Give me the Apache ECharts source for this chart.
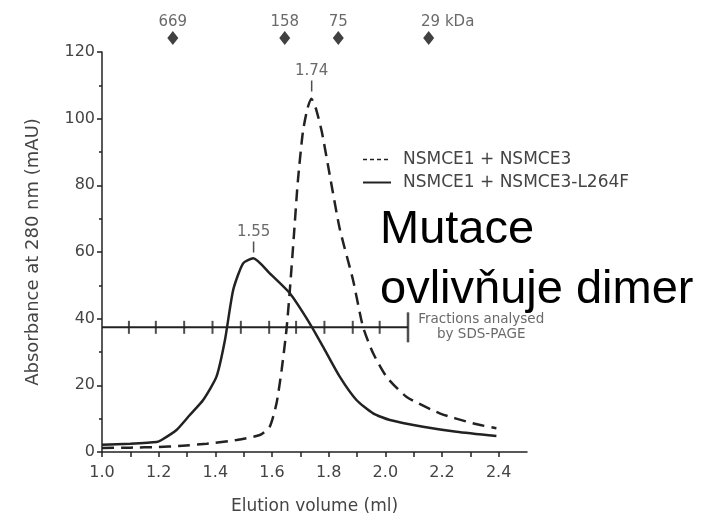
<!DOCTYPE html>
<html>
<head>
<meta charset="utf-8">
<script src="https://cdn.jsdelivr.net/npm/echarts@6/dist/echarts.min.js"></script>
<style>
html,body{margin:0;padding:0;background:#fff;}
#chart{width:719px;height:518px;}
</style>
</head>
<body>
<div id="chart"></div>
<script>
// ---- data ----
var seriesNames = ['NSMCE1 + NSMCE3', 'NSMCE1 + NSMCE3-L264F'];

var wtVolume = [1.0, 1.1, 1.2, 1.27, 1.37, 1.475, 1.557, 1.592, 1.616, 1.634, 1.651, 1.663, 1.677, 1.691, 1.709, 1.725, 1.739, 1.755, 1.776, 1.804, 1.839, 1.886, 1.921, 1.957, 2.004, 2.074, 2.192, 2.309, 2.392];
var wtAbs    = [1.2, 1.3, 1.5, 1.8, 2.5, 3.6, 5.1, 7.6, 14.6, 24.6, 36.6, 48.6, 64.6, 81, 96, 103, 106, 103, 96, 83, 67, 51.6, 37.6, 29.6, 22.6, 16.6, 11.6, 8.6, 7.1];

var mutVolume = [1.0, 1.1, 1.193, 1.21, 1.263, 1.31, 1.357, 1.404, 1.434, 1.463, 1.498, 1.534, 1.592, 1.663, 1.733, 1.78, 1.839, 1.898, 1.957, 2.016, 2.133, 2.251, 2.392];
var mutAbs    = [2.2, 2.5, 3.0, 3.6, 6.6, 11.1, 15.6, 22.6, 33.6, 48.6, 56.6, 58.1, 53.6, 47.6, 38.6, 31.6, 22.6, 15.6, 11.6, 9.6, 7.6, 6.1, 4.8];

var markerVolume = [1.25, 1.645, 1.834, 2.153];
var markerLabels = ['669', '158', '75', '29 kDa'];
var markerLevel = 124.2;

var peakVolume = [1.74, 1.535];
var peakLevel  = [109.8, 61.5];
var peakLabels = ['1.74', '1.55'];

var fractionTicks = [1.095, 1.19, 1.29, 1.39, 1.49, 1.59, 1.685, 1.785, 1.885, 1.98];
var fractionStart = 1.0;
var fractionEnd = 2.08;
var fractionLevel = 37.4;
var fractionText = ['Fractions analysed', 'by SDS-PAGE'];

var xTickValues  = [1.0, 1.1, 1.2, 1.3, 1.4, 1.5, 1.6, 1.7, 1.8, 1.9, 2.0, 2.1, 2.2, 2.3, 2.4];
var xLabelValues = [1.0, 1.2, 1.4, 1.6, 1.8, 2.0, 2.2, 2.4];

var xTitle = 'Elution volume (ml)';
var yTitle = 'Absorbance at 280 nm (mAU)';
var overlayText = ['Mutace', 'ovlivňuje dimer'];

// ---- chart ----
function zip(a, b) { return a.map(function (v, i) { return [v, b[i]]; }); }

var FONT = 'DejaVu Sans';
var INK = '#222';
var TXT = '#444';

var chart = echarts.init(document.getElementById('chart'), null, {renderer: 'canvas'});

var option = {
  animation: false,
  backgroundColor: '#fff',
  grid: {left: 102, right: 192, top: 52, bottom: 66, containLabel: false, outerBoundsMode: 'none'},
  legend: {
    orient: 'vertical',
    left: 357,
    top: 146,
    itemWidth: 28,
    itemHeight: 14,
    itemGap: 6,
    selectedMode: false,
    itemStyle: {opacity: 0},
    data: [
      {name: seriesNames[0], lineStyle: {type: [4, 3], width: 1.5}},
      {name: seriesNames[1], lineStyle: {width: 2}}
    ],
    textStyle: {fontFamily: FONT, fontSize: 17, color: TXT, padding: [0, 0, 0, 7], lineHeight: 17}
  },
  xAxis: {
    type: 'value',
    min: 1.0,
    max: 2.5,
    interval: 0.1,
    name: xTitle,
    nameLocation: 'middle',
    nameGap: 46,
    nameTextStyle: {fontFamily: FONT, fontSize: 17, color: TXT},
    axisLine: {lineStyle: {color: INK, width: 1.5}},
    axisTick: {show: true, length: 5, customValues: xTickValues, lineStyle: {color: INK, width: 1.5}},
    axisLabel: {
      customValues: xLabelValues,
      margin: 13,
      fontFamily: FONT, fontSize: 16, color: TXT,
      formatter: function (v) { return v.toFixed(1); }
    },
    splitLine: {show: false}
  },
  yAxis: {
    type: 'value',
    min: 0,
    max: 120,
    interval: 20,
    name: yTitle,
    nameLocation: 'middle',
    nameGap: 60,
    nameRotate: 90,
    nameTextStyle: {fontFamily: FONT, fontSize: 18, color: TXT},
    axisLine: {show: true, lineStyle: {color: INK, width: 1.5}},
    axisTick: {show: true, length: 5, lineStyle: {color: INK, width: 1.5}},
    minorTick: {show: true, splitNumber: 2, length: 3, lineStyle: {color: INK, width: 1.5}},
    axisLabel: {margin: 7, fontFamily: FONT, fontSize: 16, color: TXT},
    splitLine: {show: false},
    minorSplitLine: {show: false}
  },
  graphic: [
    {type: 'text', left: 380, top: 207, silent: true,
     style: {text: overlayText[0], font: '47px "Liberation Sans", Arial, sans-serif', fill: '#000'}},
    {type: 'text', left: 380, top: 267, silent: true,
     style: {text: overlayText[1], font: '47px "Liberation Sans", Arial, sans-serif', fill: '#000'}}
  ],
  series: [
    {
      name: seriesNames[0],
      type: 'line',
      data: zip(wtVolume, wtAbs),
      showSymbol: false,
      symbol: 'none',
      smooth: 0.2,
      silent: true,
      lineStyle: {color: INK, width: 2.5, type: [12, 7]},
      itemStyle: {color: INK},
      z: 3
    },
    {
      name: seriesNames[1],
      type: 'line',
      data: zip(mutVolume, mutAbs),
      showSymbol: false,
      symbol: 'none',
      smooth: 0.2,
      silent: true,
      lineStyle: {color: INK, width: 2.5},
      itemStyle: {color: INK},
      z: 3
    },
    {
      name: 'fractions',
      type: 'line',
      data: [[fractionStart, fractionLevel], [fractionEnd, fractionLevel]],
      symbol: 'none',
      silent: true,
      lineStyle: {color: INK, width: 2},
      z: 2
    },
    {
      name: 'fractionTicks',
      type: 'scatter',
      data: fractionTicks.map(function (v) { return [v, fractionLevel]; }),
      symbol: 'rect',
      symbolSize: [2, 13],
      silent: true,
      itemStyle: {color: INK},
      z: 2
    },
    {
      name: 'fractionEnd',
      type: 'scatter',
      data: [[fractionEnd, fractionLevel]],
      symbol: 'rect',
      symbolSize: [2.5, 30],
      silent: true,
      itemStyle: {color: INK},
      label: {
        show: true,
        position: 'right',
        distance: 6,
        formatter: '{a|' + fractionText[0] + '}\n{a|' + fractionText[1] + '}',
        rich: {a: {width: 132, align: 'center', fontFamily: FONT, fontSize: 13.5, color: TXT, lineHeight: 15}}
      },
      z: 2
    },
    {
      name: 'peaks',
      type: 'scatter',
      data: zip(peakVolume, peakLevel).map(function (p, i) {
        return {value: p, label: {formatter: peakLabels[i]}};
      }),
      symbol: 'rect',
      symbolSize: [1.5, 11],
      silent: true,
      itemStyle: {color: INK},
      label: {show: true, position: 'top', distance: 2, fontFamily: FONT, fontSize: 15, color: TXT},
      z: 4
    },
    {
      name: 'markers',
      type: 'scatter',
      clip: false,
      data: markerVolume.map(function (v, i) {
        var item = {value: [v, markerLevel], label: {formatter: markerLabels[i]}};
        if (i === markerVolume.length - 1) { item.label.offset = [19, 0]; }
        return item;
      }),
      symbol: 'diamond',
      symbolSize: [11, 14],
      silent: true,
      itemStyle: {color: '#111'},
      label: {show: true, position: 'top', distance: 1, fontFamily: FONT, fontSize: 15, color: TXT},
      z: 4
    }
  ]
};
chart.setOption(option);
</script>
</body>
</html>
